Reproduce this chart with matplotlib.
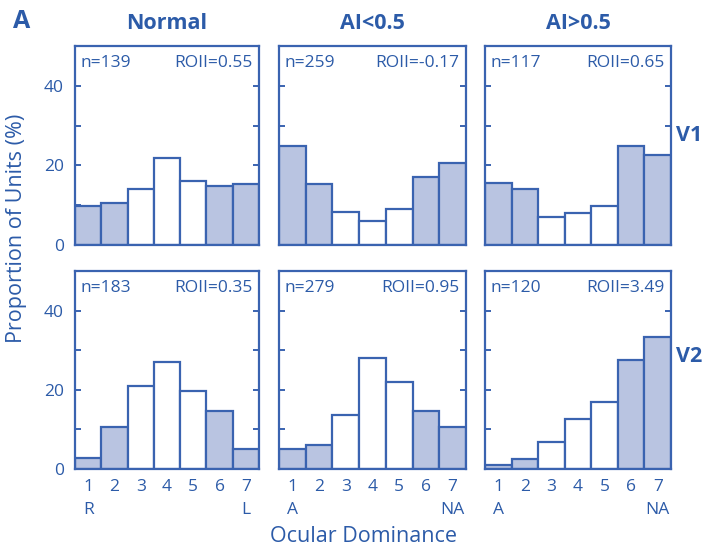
import matplotlib
matplotlib.use("Agg")
import matplotlib.pyplot as plt
import numpy as np

plt.rcParams['font.family'] = ['Open Sans', 'DejaVu Sans']

# ---- data ----
categories = [1, 2, 3, 4, 5, 6, 7]
col_titles = ["Normal", "AI<0.5", "AI>0.5"]
row_labels = ["V1", "V2"]

v1_normal = [9.7, 10.5, 14.0, 21.8, 16.0, 14.7, 15.3]
v1_ai_lo = [24.8, 15.3, 8.3, 6.0, 9.1, 17.2, 20.6]
v1_ai_hi = [15.7, 14.0, 7.1, 8.0, 9.7, 25.0, 22.7]
v2_normal = [2.8, 10.5, 21.0, 26.9, 19.8, 14.7, 5.0]
v2_ai_lo = [5.0, 6.1, 13.7, 28.0, 21.9, 14.7, 10.5]
v2_ai_hi = [1.1, 2.6, 6.8, 12.7, 16.8, 27.6, 33.4]

n_values = [[139, 259, 117], [183, 279, 120]]
roii_values = [["0.55", "-0.17", "0.65"], ["0.35", "0.95", "3.49"]]
end_labels = [("R", "L"), ("A", "NA"), ("A", "NA")]
filled = [True, True, False, False, False, True, True]

data = [[v1_normal, v1_ai_lo, v1_ai_hi], [v2_normal, v2_ai_lo, v2_ai_hi]]

blue = "#3a63b0"
fill = "#b9c4e1"
txt = "#2c5ba8"

fig = plt.figure(figsize=(7.15, 5.5), dpi=100)
W, H = 715, 550
cols = [(75, 259), (279, 466), (485, 671)]
rows = [(46, 245), (271, 469)]

for r in range(2):
    for c in range(3):
        x0, x1 = cols[c]
        y0, y1 = rows[r]
        ax = fig.add_axes([x0 / W, 1 - y1 / H, (x1 - x0) / W, (y1 - y0) / H])
        vals = data[r][c]
        colors = [fill if f else "white" for f in filled]
        ax.bar(categories, vals, width=1.0, color=colors, edgecolor=blue,
               linewidth=1.6, zorder=2)
        ax.set_xlim(0.5, 7.5)
        ax.set_ylim(0, 50)
        for s in ax.spines.values():
            s.set_color(blue)
            s.set_linewidth(1.6)
        ax.set_yticks([0, 10, 20, 30, 40])
        if c == 0:
            ax.set_yticklabels(["0", "", "20", "", "40"])
        else:
            ax.set_yticklabels([])
        ax.tick_params(axis='y', direction='in', length=4, width=1.4,
                       color=blue, right=True, labelcolor=txt, labelsize=12.5, pad=8)
        ax.set_xticks([4], minor=True)
        ax.tick_params(axis='x', which='minor', direction='in', length=4,
                       width=1.4, color=blue, top=True, bottom=True)
        ax.set_xticks(categories)
        if r == 1:
            lab = [str(k) for k in categories]
            lab[0] = "1\n" + end_labels[c][0]
            lab[-1] = "7\n" + end_labels[c][1]
            ax.set_xticklabels(lab, linespacing=1.6)
        else:
            ax.set_xticklabels([])
        ax.tick_params(axis='x', which='major', length=0, labelcolor=txt,
                       labelsize=12.5, pad=7)
        ax.text(0.03, 0.915, f"n={n_values[r][c]}", transform=ax.transAxes,
                color=txt, fontsize=12.5, va='center', ha='left')
        ax.text(0.965, 0.915, f"ROII={roii_values[r][c]}", transform=ax.transAxes,
                color=txt, fontsize=12.5, va='center', ha='right')
        if r == 0:
            ax.set_title(col_titles[c], color=txt, fontsize=15.5,
                         fontweight='bold', pad=12)
        if c == 2:
            ax.text(1.1, 0.55 if r == 0 else 0.57, row_labels[r],
                    transform=ax.transAxes, color=txt, fontsize=15.5,
                    fontweight='bold', va='center', ha='center')

fig.text(22 / W, 1 - 22 / H, "A", color=txt, fontsize=18, fontweight='bold',
         ha='center', va='center')
fig.text(17 / W, 1 - 228 / H, "Proportion of Units (%)", color=txt,
         fontsize=15.5, rotation=90, ha='center', va='center')
fig.text(363 / W, 1 - 537 / H, "Ocular Dominance", color=txt, fontsize=15.5,
         ha='center', va='center')

fig.savefig("out.png", dpi=100)
